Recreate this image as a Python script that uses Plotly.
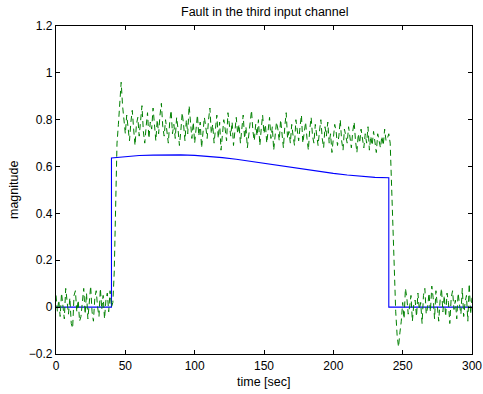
import plotly.graph_objects as go

# ---- data ----
# nominal (fault-free model) output, blue
ref_t = [0, 40, 40, 50, 60, 70, 80, 90, 100, 110, 120, 130, 140, 150, 160, 170,
         180, 190, 200, 210, 220, 230, 240, 240, 300]
ref_y = [0, 0, 0.637, 0.643, 0.647, 0.649, 0.650, 0.650, 0.648, 0.644, 0.638,
         0.631, 0.622, 0.613, 0.604, 0.595, 0.586, 0.578, 0.571, 0.564, 0.558,
         0.554, 0.552, 0, 0]

# measured output with fault, green dashed (1 s sampling, t = 0..300)
meas_pre = [0.05, -0.02, 0.03, -0.04, 0.06, 0.01, -0.05, 0.08, 0.02, -0.03,
            0.04, -0.07, -0.09, 0.05, 0.07, -0.02, 0.03, -0.06, -0.04, 0.02,
            0.08, -0.03, 0.06, -0.05, 0.01, 0.09, -0.02, -0.06, 0.04, 0.07,
            0.00, -0.04, 0.08, -0.01, 0.05, -0.05, 0.03, 0.06, -0.02, 0.07, 0.0]
meas_rise = [0.02, 0.15, 0.45, 0.70, 0.78, 0.88, 0.96, 0.86, 0.80]
meas_fault = [0.74, 0.82, 0.77, 0.71, 0.79, 0.84, 0.76, 0.69, 0.78, 0.81,
              0.73, 0.80, 0.86, 0.75, 0.70, 0.77, 0.83, 0.72, 0.79, 0.76,
              0.85, 0.78, 0.71, 0.80, 0.74, 0.82, 0.87, 0.77, 0.73, 0.80,
              0.76, 0.70, 0.79, 0.84, 0.74, 0.78, 0.72, 0.81, 0.76, 0.69,
              0.75, 0.83, 0.78, 0.71, 0.80, 0.74, 0.86, 0.77, 0.72, 0.79,
              0.70, 0.76, 0.82, 0.73, 0.79, 0.68, 0.75, 0.81, 0.77, 0.72,
              0.80, 0.85, 0.74, 0.78, 0.70, 0.76, 0.82, 0.72, 0.79, 0.67,
              0.74, 0.80, 0.76, 0.71, 0.83, 0.77, 0.73, 0.79, 0.69, 0.75,
              0.81, 0.74, 0.78, 0.70, 0.76, 0.82, 0.72, 0.77, 0.68, 0.74,
              0.79, 0.84, 0.75, 0.71, 0.78, 0.73, 0.80, 0.69, 0.76, 0.82,
              0.74, 0.78, 0.70, 0.75, 0.81, 0.72, 0.77, 0.67, 0.73, 0.79,
              0.76, 0.71, 0.80, 0.74, 0.68, 0.77, 0.83, 0.72, 0.75, 0.70,
              0.78, 0.73, 0.69, 0.80, 0.75, 0.71, 0.77, 0.82, 0.70, 0.74,
              0.79, 0.72, 0.67, 0.76, 0.81, 0.73, 0.70, 0.78, 0.74, 0.69,
              0.75, 0.80, 0.72, 0.68, 0.77, 0.73, 0.79, 0.70, 0.74, 0.66,
              0.72, 0.78, 0.75, 0.69, 0.73, 0.80, 0.71, 0.67, 0.76, 0.72,
              0.70, 0.77, 0.73, 0.68, 0.75, 0.79, 0.71, 0.66, 0.74, 0.70,
              0.76, 0.72, 0.68, 0.74, 0.70, 0.77, 0.67, 0.73, 0.69, 0.75,
              0.71, 0.66, 0.74, 0.70, 0.68, 0.73, 0.69, 0.76, 0.71, 0.72]
meas_fall = [0.74, 0.70, 0.50, 0.30, 0.12, -0.02, -0.12, -0.17, -0.11, -0.06]
meas_post = [0.02, -0.05, 0.08, 0.04, -0.03, 0.00, 0.05, -0.06, 0.01, 0.03,
             -0.04, 0.06, -0.01, 0.02, -0.07, 0.05, 0.08, -0.03, 0.00, 0.06,
             -0.02, 0.09, 0.04, -0.05, 0.07, 0.01, -0.06, 0.03, 0.08, -0.02,
             0.05, -0.04, 0.06, 0.02, -0.07, 0.04, 0.07, -0.01, 0.03, -0.05,
             0.06, 0.01, -0.03, 0.08, -0.04, 0.02, 0.05, -0.06, 0.10, -0.03, 0.04]
meas_y = meas_pre + meas_rise + meas_fault + meas_fall + meas_post
meas_t = list(range(len(meas_y)))

x_ticks = [0, 50, 100, 150, 200, 250, 300]
y_ticks = [-0.2, 0, 0.2, 0.4, 0.6, 0.8, 1, 1.2]
y_tick_labels = ["\u22120.2", "0", "0.2", "0.4", "0.6", "0.8", "1", "1.2"]

# ---- figure ----
W, H = 483, 394
L, R, T, B = 56, 11, 26, 40

fig = go.Figure()
fig.add_trace(go.Scatter(x=ref_t, y=ref_y, mode="lines",
                         line=dict(color="#0000ff", width=1.1)))
fig.add_trace(go.Scatter(x=meas_t, y=meas_y, mode="lines",
                         line=dict(color="#008000", width=1, dash="6px,4px")))

font = "Liberation Sans, Arial, Helvetica, sans-serif"
pw = W - L - R
ph = H - T - B
fig.update_layout(
    width=W, height=H,
    margin=dict(l=L, r=R, t=T, b=B, autoexpand=False),
    paper_bgcolor="white", plot_bgcolor="white",
    showlegend=False,
    font=dict(family=font, size=12, color="black"),
)
fig.update_xaxes(range=[0, 300], tickvals=x_ticks, showgrid=False, zeroline=False,
                 showline=True, linecolor="black", linewidth=1.3, mirror="allticks",
                 ticks="inside", ticklen=4, tickcolor="black",
                 tickfont=dict(size=12))
fig.update_yaxes(range=[-0.2, 1.2], tickvals=y_ticks, ticktext=y_tick_labels,
                 showgrid=False, zeroline=False,
                 showline=True, linecolor="black", linewidth=1.3, mirror="allticks",
                 ticks="inside", ticklen=4, tickcolor="black",
                 tickfont=dict(size=12))
fig.add_annotation(text="Fault in the third input channel", xref="paper", yref="paper",
                   x=0.5, y=1 + (T - 12) / ph, showarrow=False,
                   xanchor="center", yanchor="middle", font=dict(size=12.5))
fig.add_annotation(text="time [sec]", xref="paper", yref="paper",
                   x=0.5, y=-(382 - (H - B)) / ph, showarrow=False,
                   xanchor="center", yanchor="middle", font=dict(size=12.5))
fig.add_annotation(text="magnitude", xref="paper", yref="paper",
                   x=-(L - 14) / pw, y=0.5, showarrow=False, textangle=-90,
                   xanchor="center", yanchor="middle", font=dict(size=12.5))

fig.write_html("out.html")
